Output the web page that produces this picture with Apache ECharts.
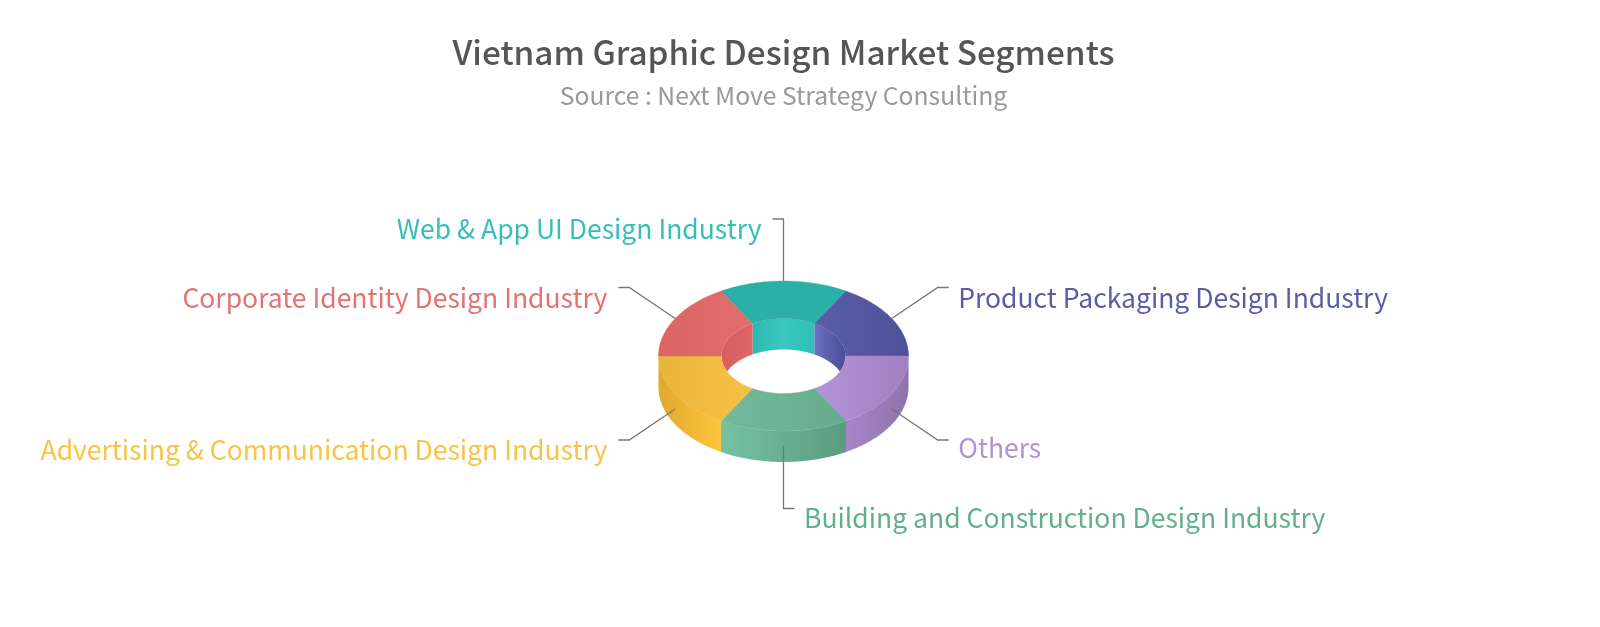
<!DOCTYPE html>
<html><head><meta charset="utf-8">
<style>html,body{margin:0;padding:0;background:#fff}#c{width:1600px;height:627px}</style>
<script src="https://cdn.jsdelivr.net/npm/echarts@6/dist/echarts.min.js"></script>
</head><body><div id="c"></div>
<script>
const titleText = 'Vietnam Graphic Design Market Segments';
const subtitleText = 'Source : Next Move Strategy Consulting';
const categories = ['Web & App UI Design Industry','Product Packaging Design Industry','Others','Building and Construction Design Industry','Advertising & Communication Design Industry','Corporate Identity Design Industry'];
const values = [1,1,1,1,1,1];
const labelColors = ['#35bfb6','#5a5da6','#ae93d4','#63ae8e','#f7c445','#e47272'];
const labelNudgeY = [0,0,-2,-1,0,0];
const topColors = [['#2bb0a8','#2bb0a8'],['#5a5ea9','#4e5198'],['#b294d8','#a280c0'],['#72bb9c','#66aa8c'],['#e8b53a','#f6c146'],['#db6464','#e36e6e']];
const wallColors = [null,null,['#a687ca','#8f72ab'],['#76c2a2','#5a9c7e'],['#dfa92e','#ffc53e'],null];
const innerColors = [['#2db8b0','#38c8bf','#31beb6'],['#6b70c2','#494d95'],null,null,null,['#d95f5f','#de6666']];

const FONT = '"Noto Sans CJK SC","Noto Sans",sans-serif';
const CX = 783.5, CY = 356, RX = 125, RY = 75, IRX = 62, IRY = 37.5, DEPTH = 31, START = -120;
const total = values.reduce((a,b)=>a+b,0);
const rad = d => d*Math.PI/180;
const grad = c => new echarts.graphic.LinearGradient(0,0,1,0,c.map((col,k)=>({offset:k/(c.length-1),color:col})));
function arc(rx,ry,a0,a1,fy){
  const pts=[],n=48;
  for(let i=0;i<=n;i++){
    const a=rad(a0+(a1-a0)*i/n);
    pts.push([CX+rx*Math.cos(a), fy?fy(a):CY+ry*Math.sin(a)]);
  }
  return pts;
}
function renderItem(params, api){
  const i=params.dataIndex;
  let before=0; for(let k=0;k<i;k++) before+=values[k];
  const a0=START+before/total*360, a1=a0+api.value(0)/total*360, mid=(a0+a1)/2;
  const children=[];
  if(wallColors[i]){
    const top=arc(RX,RY,a0,a1), bottom=arc(RX,RY,a0,a1).map(p=>[p[0],p[1]+DEPTH]).reverse();
    children.push({type:'polygon',shape:{points:top.concat(bottom)},style:{fill:grad(wallColors[i])},z2:1});
  }
  if(innerColors[i]){
    const top=arc(IRX,IRY,a0,a1);
    const bottom=arc(IRX,IRY,a0,a1,a=>Math.min(CY+IRY*Math.sin(a)+DEPTH,CY-IRY*Math.sin(a))).reverse();
    children.push({type:'polygon',shape:{points:top.concat(bottom)},style:{fill:grad(innerColors[i])},z2:1});
  }
  children.push({type:'polygon',shape:{points:arc(RX,RY,a0,a1).concat(arc(IRX,IRY,a0,a1).reverse())},style:{fill:grad(topColors[i]),stroke:grad(topColors[i]),lineWidth:0.4},z2:2});
  const c=Math.cos(rad(mid)), s=Math.sin(rad(mid));
  const sx=CX+RX*c, sy=CY+RY*s+(s>0?DEPTH/2:0);
  let pts, ex, ey, align;
  if(Math.abs(c)<0.01){
    const h=s<0?-1:1;
    const ky=sy+h*62;
    ex=sx+h*11; ey=ky; pts=[[sx,sy],[sx,ky],[ex,ey]];
    align=h<0?'right':'left';
  } else {
    const h=c<0?-1:1, v=s<0?-1:1;
    const kx=sx+h*46, ky=sy+v*31;
    ex=kx+h*11; ey=ky; pts=[[sx,sy],[kx,ky],[ex,ey]];
    align=h<0?'right':'left';
  }
  children.push({type:'polyline',shape:{points:pts},style:{stroke:'#777777',lineWidth:1.3,fill:null},z2:5});
  children.push({type:'text',z2:6,style:{text:categories[i],x:ex+(align==='left'?9.5:-11),y:ey+10+labelNudgeY[i],align:align,verticalAlign:'middle',fill:labelColors[i],font:'26.5px '+FONT}});
  return {type:'group',children};
}
const chart=echarts.init(document.getElementById('c'),null,{renderer:'canvas'});
chart.setOption({
  animation:false,
  backgroundColor:'#fff',
  title:{text:titleText,subtext:subtitleText,left:778.5,top:31,textAlign:'center',itemGap:14,
    textStyle:{fontFamily:FONT,fontSize:33.3,fontWeight:500,color:'#555'},
    subtextStyle:{fontFamily:FONT,fontSize:24.7,color:'#999'}},
  series:[{type:'custom',coordinateSystem:'none',renderItem,silent:true,
    data:values.map((v,i)=>({name:categories[i],value:[v]}))}]
});
</script></body></html>
